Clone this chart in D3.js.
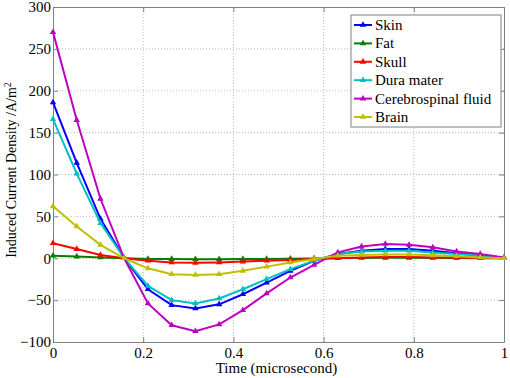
<!DOCTYPE html>
<html>
<head>
<meta charset="utf-8">
<script src="https://cdn.jsdelivr.net/npm/d3@7"></script>
<style>
  body { margin: 0; background: #fff; }
  .grid line { stroke: #bbb; stroke-dasharray: 1,2; }
</style>
</head>
<body>
<div id="chart"></div>
<script>
// time points (microsecond), 20 samples
var times = d3.range(20).map(function (i) { return i / 19; });
var series_names = ["Skin", "Fat", "Skull", "Dura mater", "Cerebrospinal fluid", "Brain"];
var series_colors = ["#0000ff", "#008000", "#ff0000", "#00bfbf", "#bf00bf", "#bfbf00"];

var skin  = [186, 114, 47, 0, -37, -56, -60, -55, -43, -29, -15, -3, 5, 9, 11, 11, 9, 6, 3, 0];
var fat   = [3, 2, 1, 0, -1, -1, -1.2, -1.2, -1, -0.8, -0.5, -0.2, 0.2, 0.4, 0.5, 0.5, 0.4, 0.3, 0.1, 0];
var skull = [18, 11, 4, 0, -3, -5, -5.5, -5, -4, -3, -2, -1, 0, 1, 1.5, 1.5, 1, 0.8, 0.4, 0];
var dura  = [166, 101, 42, 0, -33, -50, -54, -48, -37, -25, -13, -3, 5, 8, 9, 9, 7, 5, 3, 0];
var csf   = [270, 165, 71, 0, -54, -80, -87, -79, -62, -42, -23, -8, 7, 14, 17, 16, 13, 8, 5, 1];
var brain = [62, 38, 16, 0, -12, -19, -20, -19, -15, -10, -5, -1, 3, 4, 4.5, 4.5, 3.5, 2.5, 1, 0];
var series_values = [skin, fat, skull, dura, csf, brain];

var x_ticks = [0, 0.2, 0.4, 0.6, 0.8, 1];
var y_ticks = [-100, -50, 0, 50, 100, 150, 200, 250, 300];

var width = 510, height = 378;
var margin = {left: 53, right: 6, top: 7, bottom: 36};
var serif = "Liberation Serif";

var x = d3.scaleLinear().domain([0, 1]).range([margin.left, width - margin.right]);
var y = d3.scaleLinear().domain([-100, 300]).range([height - margin.bottom, margin.top]);

var svg = d3.select("#chart").append("svg")
  .attr("width", width)
  .attr("height", height)
  .attr("font-family", serif);

// grid
svg.append("g").attr("class", "grid")
  .selectAll("line").data(x_ticks.slice(1, -1)).enter().append("line")
  .attr("x1", function (d) { return x(d); }).attr("x2", function (d) { return x(d); })
  .attr("y1", y(-100)).attr("y2", y(300));
svg.append("g").attr("class", "grid")
  .selectAll("line").data(y_ticks.slice(1, -1)).enter().append("line")
  .attr("y1", function (d) { return y(d); }).attr("y2", function (d) { return y(d); })
  .attr("x1", x(0)).attr("x2", x(1));

// axes, ticks inward, box on
function style_axis (g) {
  g.attr("font-family", serif).attr("font-size", 15);
  g.selectAll("path").attr("stroke", "#808080");
  g.selectAll("line").attr("stroke", "#808080");
  g.selectAll("text").attr("fill", "#000");
}
svg.append("g")
  .attr("transform", "translate(0," + y(-100) + ")")
  .call(d3.axisBottom(x).tickValues(x_ticks).tickFormat(d3.format("")).tickSizeInner(-5).tickSizeOuter(0).tickPadding(5))
  .call(style_axis);
svg.append("g")
  .attr("transform", "translate(0," + y(300) + ")")
  .call(d3.axisTop(x).tickValues(x_ticks).tickFormat("").tickSizeInner(-5).tickSizeOuter(0))
  .call(style_axis);
svg.append("g")
  .attr("transform", "translate(" + x(0) + ",0)")
  .call(d3.axisLeft(y).tickValues(y_ticks).tickSizeInner(-5).tickSizeOuter(0).tickPadding(2))
  .call(style_axis);
svg.append("g")
  .attr("transform", "translate(" + x(1) + ",0)")
  .call(d3.axisRight(y).tickValues(y_ticks).tickFormat("").tickSizeInner(-5).tickSizeOuter(0))
  .call(style_axis);

// lines
var line = d3.line()
  .x(function (d, i) { return x(times[i]); })
  .y(function (d) { return y(d); });

var marker = d3.symbol().type(d3.symbolTriangle).size(18);

series_values.forEach(function (vals, k) {
  var g = svg.append("g");
  g.append("path")
    .datum(vals)
    .attr("fill", "none")
    .attr("stroke", series_colors[k])
    .attr("stroke-width", 2)
    .attr("d", line);
  g.selectAll("path.m").data(vals).enter().append("path")
    .attr("class", "m")
    .attr("d", marker)
    .attr("fill", series_colors[k])
    .attr("transform", function (d, i) { return "translate(" + x(times[i]) + "," + y(d) + ")"; });
});

// axis titles
svg.append("text")
  .attr("x", (x(0) + x(1)) / 2 - 2)
  .attr("y", 373)
  .attr("text-anchor", "middle")
  .attr("font-size", 15)
  .text("Time (microsecond)");

var ylab = svg.append("text")
  .attr("transform", "translate(16,170) rotate(-90)")
  .attr("text-anchor", "middle")
  .attr("font-size", 14);
ylab.append("tspan").text("Induced Current Density /A/m");
ylab.append("tspan").attr("baseline-shift", "super").attr("font-size", 10).text("2");

// legend
var legend = svg.append("g").attr("transform", "translate(351,15)");
legend.append("rect")
  .attr("width", 150).attr("height", 112)
  .attr("fill", "#fff").attr("stroke", "#808080");
series_names.forEach(function (name, k) {
  var ly = 10 + k * 18.4;
  legend.append("line")
    .attr("x1", 3).attr("x2", 21).attr("y1", ly).attr("y2", ly)
    .attr("stroke", series_colors[k]).attr("stroke-width", 2);
  legend.append("path")
    .attr("d", marker)
    .attr("fill", series_colors[k])
    .attr("transform", "translate(12," + ly + ")");
  legend.append("text")
    .attr("x", 24).attr("y", ly + 5)
    .attr("font-size", 15)
    .text(name);
});
</script>
</body>
</html>
